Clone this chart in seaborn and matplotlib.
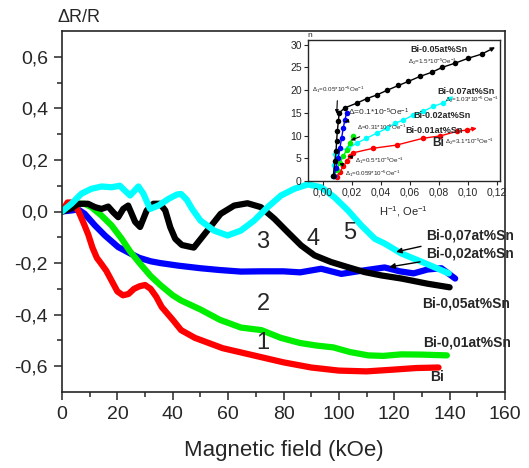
import numpy as np
import matplotlib
matplotlib.use('Agg')
import matplotlib.pyplot as plt
import seaborn as sns

sns.set_style('ticks')
plt.rcParams['font.family'] = ['Liberation Sans', 'DejaVu Sans']
plt.rcParams['mathtext.fontset'] = 'custom'
plt.rcParams['mathtext.rm'] = 'Liberation Sans'
plt.rcParams['mathtext.it'] = 'Liberation Sans'

# main curves: field (kOe) vs dR/R
bi_x = [0, 2, 4, 6, 8, 9.5, 11, 12.6, 14, 16, 18, 20, 22, 24, 26, 28, 30, 32, 34, 36,
        40, 43, 48, 53, 58, 62, 70, 80, 90, 100, 110, 120, 128, 136]
bi_y = [0, 0.035, 0.035, 0.0, -0.05, -0.09, -0.14, -0.18, -0.20, -0.23, -0.27, -0.31, -0.325,
        -0.32, -0.30, -0.29, -0.285, -0.30, -0.33, -0.37, -0.42, -0.46, -0.49, -0.51, -0.53,
        -0.54, -0.56, -0.585, -0.605, -0.617, -0.62, -0.613, -0.607, -0.605]

sn01_x = [0, 3.4, 5.8, 8.2, 10.6, 14.3, 17.9, 21.5, 24.6, 28, 32, 35.5, 40, 43, 50, 57,
          64.6, 72, 79, 86, 92, 98, 104, 110.6, 116, 122.6, 130, 139]
sn01_y = [0, 0.023, 0.03, 0.03, 0.017, -0.016, -0.054, -0.105, -0.155, -0.20, -0.25, -0.285,
          -0.325, -0.345, -0.38, -0.42, -0.45, -0.46, -0.49, -0.51, -0.52, -0.527, -0.545,
          -0.558, -0.56, -0.554, -0.555, -0.558]

sn02_x = [0, 3.4, 5.8, 8.2, 11.9, 15.5, 20.3, 24.7, 28, 32, 35.5, 42, 50, 57, 64.6, 72, 80,
          86, 93.6, 100.9, 108, 116.5, 122, 127, 132, 137, 142]
sn02_y = [0, 0.004, 0.008, -0.009, -0.054, -0.093, -0.138, -0.163, -0.18, -0.193, -0.20,
          -0.21, -0.22, -0.227, -0.233, -0.232, -0.232, -0.236, -0.222, -0.242, -0.23, -0.217,
          -0.232, -0.24, -0.225, -0.22, -0.26]

sn05_x = [0, 3.4, 5.8, 9.4, 11.9, 14.3, 16.7, 18.5, 20.3, 22.1, 23.9, 26.4, 28.2, 30.6, 33,
          35.4, 37.3, 39.1, 40.9, 43.3, 47.6, 52.5, 57.3, 62.2, 67, 71.8, 76.7, 81.5, 86.4,
          91.2, 97.2, 103.3, 109.3, 115.4, 122.6, 132, 140]
sn05_y = [0, 0.012, 0.03, 0.03, 0.017, 0.01, 0.019, -0.003, -0.022, 0.01, 0.023, -0.04,
          -0.06, 0.004, 0.03, 0.03, 0.004, -0.061, -0.106, -0.13, -0.14, -0.074, -0.009,
          0.023, 0.032, 0.017, -0.028, -0.08, -0.132, -0.17, -0.196, -0.216, -0.235, -0.248,
          -0.26, -0.28, -0.294]

sn07_x = [0, 3.4, 7, 10.6, 14.3, 17.9, 20.9, 22.7, 24.6, 27.6, 29.4, 31.8, 34.8, 38.5, 41.5,
          43, 45.1, 47, 50, 54.9, 59.8, 64.6, 69.4, 74.3, 79.1, 83.9, 88.8, 93.6, 98.4, 103.3,
          108.1, 113, 116.5, 122.6, 131, 139.7]
sn07_y = [0, 0.03, 0.069, 0.088, 0.097, 0.094, 0.1, 0.081, 0.062, 0.097, 0.069, 0.01, 0.023,
          0.049, 0.066, 0.068, 0.045, 0.01, -0.035, -0.074, -0.093, -0.074, -0.035, 0.017,
          0.062, 0.088, 0.105, 0.094, 0.055, 0.004, -0.054, -0.106, -0.124, -0.163, -0.2, -0.24]

yticks = [-0.6, -0.4, -0.2, 0.0, 0.2, 0.4, 0.6]
ytick_labels = ['-0,6', '-0,4', '-0,2', '0,0', '0,2', '0,4', '0,6']
xticks = [0, 20, 40, 60, 80, 100, 120, 140, 160]

# inset: n vs 1/H
in_bk_x = [0.0071, 0.0083, 0.009, 0.0094, 0.0099, 0.0106, 0.0112, 0.0152, 0.0232, 0.0301,
           0.037, 0.0439, 0.052, 0.0589, 0.0669, 0.075, 0.0823, 0.091, 0.1002, 0.1094]
in_bk_y = [1.0, 4.3, 6.5, 8.7, 10.9, 13.1, 15.0, 16.1, 17.1, 18.1, 18.9, 19.9, 21.0, 21.9,
           23.0, 23.9, 25.0, 25.9, 27.0, 27.9]
in_bl_x = [0.0075, 0.009, 0.0106, 0.0117, 0.0129, 0.014, 0.0152, 0.0163]
in_bl_y = [1.0, 2.9, 5.1, 7.3, 9.5, 11.7, 13.5, 15.0]
in_gr_x = [0.0075, 0.0094, 0.0117, 0.014, 0.0163, 0.0186, 0.0209]
in_gr_y = [1.0, 2.5, 4.0, 5.4, 6.9, 8.4, 9.8]
in_cy_x = [0.0071, 0.0077, 0.0083, 0.0095, 0.0175, 0.0232, 0.030, 0.037, 0.044, 0.0497,
           0.0554, 0.0623, 0.069, 0.0761, 0.083]
in_cy_y = [1.0, 3.5, 6.0, 6.6, 7.2, 8.3, 9.4, 10.5, 11.6, 12.7, 13.4, 14.5, 15.3, 16.4, 17.2]
in_rd_x = [0.0094, 0.0117, 0.014, 0.0163, 0.0186, 0.0209, 0.0347, 0.0508, 0.069, 0.0807,
           0.0922, 0.099]
in_rd_y = [0.95, 2.0, 3.2, 4.3, 5.4, 6.2, 7.2, 7.9, 9.4, 9.9, 10.9, 11.2]
# where the fitted lines end in arrow heads
in_bk_end = (0.1186, 29.4)
in_cy_end = (0.0899, 18.6)
in_rd_end = (0.106, 11.6)

in_xticks = [0.0, 0.02, 0.04, 0.06, 0.08, 0.10, 0.12]
in_xtick_labels = ['0,00', '0,02', '0,04', '0,06', '0,08', '0,10', '0,12']
in_yticks = [0, 5, 10, 15, 20, 25, 30]

RED, GREEN, BLUE, CYAN = '#ff0000', '#00ee00', '#0000ff', '#00ffff'

fig = plt.figure(figsize=(5.29, 4.68), dpi=100)
ax = fig.add_axes([62 / 529, 1 - 392 / 468, 443 / 529, 361 / 468])

lw = 4.5
for xs, ys, c in [(sn02_x, sn02_y, BLUE), (bi_x, bi_y, RED), (sn01_x, sn01_y, GREEN),
                  (sn05_x, sn05_y, 'black'), (sn07_x, sn07_y, CYAN)]:
    sns.lineplot(x=xs, y=ys, ax=ax, color=c, lw=lw, sort=False, estimator=None)

ax.set_xlim(0, 160)
ax.set_ylim(-0.7, 0.7)
ax.set_xticks(xticks)
ax.set_xticks(np.arange(10, 160, 20), minor=True)
ax.set_yticks(yticks)
ax.set_yticklabels(ytick_labels)
ax.set_yticks([-0.5, -0.3, -0.1, 0.1, 0.3, 0.5], minor=True)
ax.tick_params(which='major', direction='out', length=6, width=1.1, labelsize=14, pad=4)
ax.tick_params(which='minor', direction='out', length=3.5, width=1.1)
for s in ax.spines.values():
    s.set_linewidth(1.2)
ax.set_xlabel('Magnetic field (kOe)', fontsize=16, labelpad=12)
fig.text(58 / 529, 1 - 26 / 468, 'ΔR/R', fontsize=13, ha='left', va='bottom')

# curve numbers
for t, (xx, yy) in zip(['1', '2', '3', '4', '5'],
                       [(72.6, -0.51), (72.6, -0.36), (72.6, -0.12), (90.7, -0.105), (103.8, -0.085)]):
    ax.text(xx, yy, t, fontsize=17, ha='center', va='center')

lab_kw = dict(fontsize=10, fontweight='bold', ha='left', va='center')
ax.annotate('Bi-0,07at%Sn', xy=(119.7, -0.159), xytext=(131.5, -0.093),
            arrowprops=dict(arrowstyle='-|>', color='black', lw=1, mutation_scale=8), **lab_kw)
ax.annotate('Bi-0,02at%Sn', xy=(117.2, -0.217), xytext=(131.5, -0.163),
            arrowprops=dict(arrowstyle='-|>', color='black', lw=1, mutation_scale=8), **lab_kw)
ax.text(129.9, -0.357, 'Bi-0,05at%Sn', **lab_kw)
ax.text(130.6, -0.508, 'Bi-0,01at%Sn', **lab_kw)
ax.text(132.8, -0.643, 'Bi', **lab_kw)

# inset
ins = fig.add_axes([308 / 529, 1 - 181 / 468, 192 / 529, 141 / 468])
ins.set_facecolor('white')
for xs, ys, c in [(in_rd_x, in_rd_y, RED), (in_cy_x, in_cy_y, CYAN), (in_gr_x, in_gr_y, GREEN),
                  (in_bl_x, in_bl_y, BLUE), (in_bk_x, in_bk_y, 'black')]:
    sns.lineplot(x=xs, y=ys, ax=ins, color=c, lw=1, marker='o', markersize=4,
                 markeredgewidth=0, sort=False, estimator=None)
for (xs, ys, end, c) in [(in_bk_x, in_bk_y, in_bk_end, 'black'), (in_cy_x, in_cy_y, in_cy_end, CYAN),
                         (in_rd_x, in_rd_y, in_rd_end, RED)]:
    ins.annotate('', xy=end, xytext=(xs[-1], ys[-1]),
                 arrowprops=dict(arrowstyle='-|>', color=c, lw=1, mutation_scale=6,
                                 shrinkA=0, shrinkB=0))
ins.set_xlim(-0.0103, 0.122)
ins.set_ylim(0, 31)
ins.set_xticks(in_xticks)
ins.set_xticklabels(in_xtick_labels)
ins.set_yticks(in_yticks)
ins.tick_params(direction='out', length=3, width=0.8, labelsize=7.5, pad=1.5)
for s in ins.spines.values():
    s.set_linewidth(1)
ins.set_xlabel('H$^{-1}$, Oe$^{-1}$', fontsize=8, labelpad=5)
ins.text(-0.011, 31.3, 'n', fontsize=6, ha='left', va='bottom')

ib = dict(fontsize=6.5, fontweight='bold', ha='left', va='center')
ins.text(0.060, 28.9, 'Bi-0.05at%Sn', **ib)
ins.text(0.0786, 19.6, 'Bi-0.07at%Sn', **ib)
ins.text(0.062, 14.5, 'Bi-0.02at%Sn', **ib)
ins.text(0.0566, 11.2, 'Bi-0.01at%Sn', **ib)
ins.text(0.075, 8.3, 'Bi', fontsize=8.5, fontweight='bold', ha='left', va='center')
sm = dict(fontsize=4.5, ha='left', va='center')
ins.text(0.0586, 26.2, r'$\Delta_2$=1.5*10$^{-5}$Oe$^{-1}$', **sm)
ins.text(0.084, 17.8, r'$\Delta_2$=1.03*10$^{-5}$ Oe$^{-1}$', **sm)
ins.text(0.084, 8.7, r'$\Delta_2$=3.1*10$^{-5}$Oe$^{-1}$', **sm)
ar = dict(arrowstyle='-|>', color='black', lw=0.8, mutation_scale=5)
ins.annotate(r'$\Delta_1$=0.05*10$^{-5}$Oe$^{-1}$', xy=(0.0094, 14.2), xytext=(-0.0078, 20.1),
             arrowprops=ar, **sm)
ins.annotate(r'$\Delta$=0.1*10$^{-5}$Oe$^{-1}$', xy=(0.015, 13.0), xytext=(0.0175, 15.0),
             arrowprops=ar, fontsize=6, ha='left', va='center')
ins.annotate(r'$\Delta$=0.31*10$^{-5}$Oe$^{-1}$', xy=(0.0175, 8.7), xytext=(0.0232, 11.7),
             arrowprops=ar, **sm)
ins.annotate(r'$\Delta_1$=0.5*10$^{-5}$Oe$^{-1}$', xy=(0.0175, 5.4), xytext=(0.022, 4.4),
             arrowprops=ar, **sm)
ins.annotate(r'$\Delta_1$=0.059*10$^{-5}$Oe$^{-1}$', xy=(0.0094, 4.0), xytext=(0.0152, 1.6),
             arrowprops=ar, **sm)

fig.savefig('out.png', dpi=100)
